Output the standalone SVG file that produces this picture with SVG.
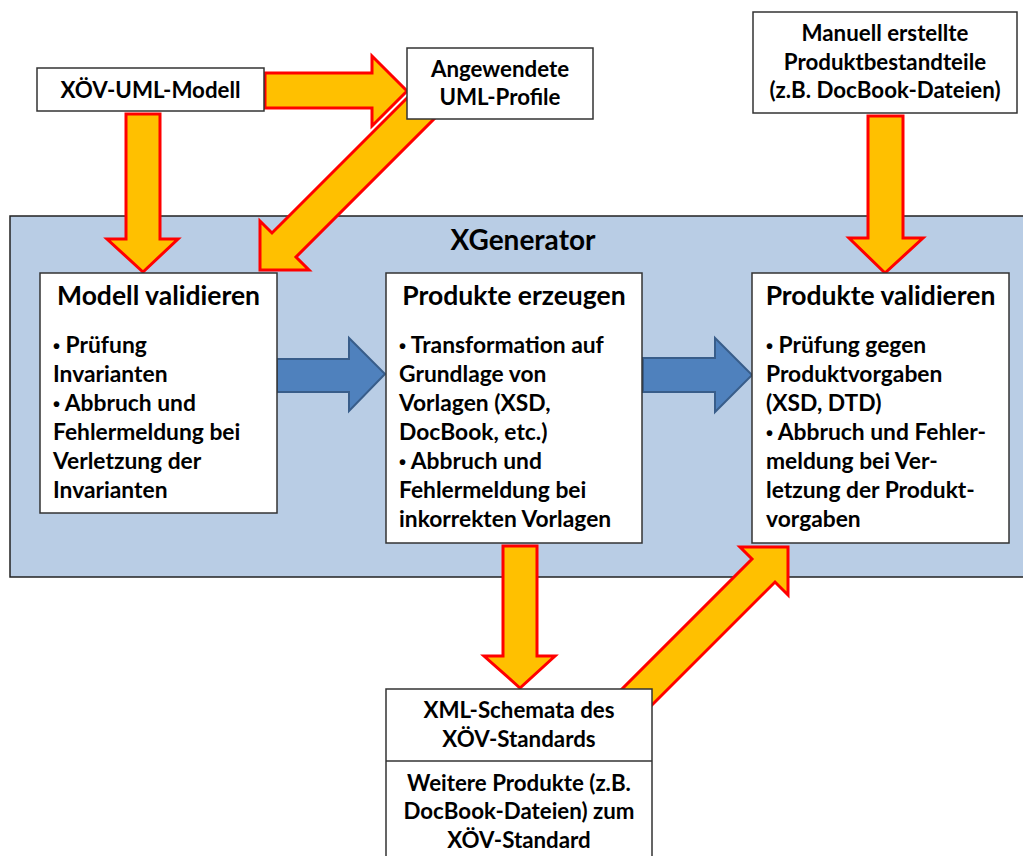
<svg xmlns="http://www.w3.org/2000/svg" width="1023" height="856" viewBox="0 0 1023 856">
  <style>
    .box { fill: #ffffff; stroke: #333333; stroke-width: 1.5; }
    .frame { fill: #b9cde5; stroke: #222222; stroke-width: 1.5; }
    .flow { fill: #ffc000; stroke: #ff0000; stroke-width: 3; stroke-linejoin: miter; }
    .step { fill: #4f81bd; stroke: #385d8a; stroke-width: 2; stroke-linejoin: miter; }
    text { font-family: Lato, "Open Sans", "Liberation Sans", sans-serif; font-weight: bold; fill: #000000; }
    .lbl { font-size: 22.3px; text-anchor: middle; }
    .ttl { font-size: 26.5px; text-anchor: middle; }
    .body { font-size: 22.8px; }
    .dot { font-family: "Liberation Sans", sans-serif; font-size: 20px; }
    .big { font-size: 28px; text-anchor: middle; }
  </style>

  <!-- XGenerator container -->
  <g id="xgenerator">
    <rect class="frame" x="10" y="216" width="1030" height="361"/>
    <text class="big" x="523" y="250">XGenerator</text>
  </g>

  <!-- connectors -->
  <g id="connectors">
    <!-- XÖV-UML-Modell -> Modell validieren -->
    <polygon class="flow" points="126,114 160,114 160,239 178,239 143,272 107,239 126,239"/>
    <!-- XÖV-UML-Modell -> Angewendete UML-Profile -->
    <polygon class="flow" points="265,73 372,73 372,56 407,91 372,126 372,108 265,108"/>
    <!-- Angewendete UML-Profile -> Modell validieren -->
    <polygon class="flow" points="260,270 260,221 272,233 410,95 434,119 296,257 309,270"/>
    <!-- Manuell erstellte Produktbestandteile -> Produkte validieren -->
    <polygon class="flow" points="868,116 903,116 903,238 923,238 885,273 849,238 868,238"/>
    <!-- Produkte erzeugen -> XML-Schemata -->
    <polygon class="flow" points="503,546 537,546 537,656 555,656 520,688 484,656 503,656"/>
    <!-- XML-Schemata -> Produkte validieren -->
    <polygon class="flow" points="788,547 788,595 775,582 623,734 600,711 752,559 740,547"/>
    <!-- internal steps -->
    <polygon class="step" points="277,359 349,359 349,338 385,374 349,411 349,392 277,392"/>
    <polygon class="step" points="643,358 715,358 715,338 752,375 715,412 715,392 643,392"/>
  </g>

  <g id="xoev-uml-modell">
    <rect class="box" x="37" y="68" width="227" height="43"/>
    <text class="lbl" x="150.5" y="98">XÖV-UML-Modell</text>
  </g>

  <g id="uml-profile">
    <rect class="box" x="407" y="48" width="186" height="71"/>
    <text class="lbl" x="500" y="77">Angewendete</text>
    <text class="lbl" x="500" y="105">UML-Profile</text>
  </g>

  <g id="manuelle-bestandteile">
    <rect class="box" x="753" y="12" width="264" height="101"/>
    <text class="lbl" x="885" y="41">Manuell erstellte</text>
    <text class="lbl" x="885" y="70">Produktbestandteile</text>
    <text class="lbl" x="885" y="98">(z.B. DocBook-Dateien)</text>
  </g>

  <g id="modell-validieren">
    <rect class="box" x="40" y="273" width="237" height="240"/>
    <text class="ttl" x="158.5" y="305">Modell validieren</text>
    <text class="body" x="53" y="353"><tspan class="dot">•</tspan> Prüfung</text>
    <text class="body" x="53" y="382">Invarianten</text>
    <text class="body" x="53" y="411"><tspan class="dot">•</tspan> Abbruch und</text>
    <text class="body" x="53" y="440">Fehlermeldung bei</text>
    <text class="body" x="53" y="469">Verletzung der</text>
    <text class="body" x="53" y="498">Invarianten</text>
  </g>

  <g id="produkte-erzeugen">
    <rect class="box" x="386" y="273" width="256" height="270"/>
    <text class="ttl" x="514" y="305">Produkte erzeugen</text>
    <text class="body" x="399" y="353"><tspan class="dot">•</tspan> Transformation auf</text>
    <text class="body" x="399" y="382">Grundlage von</text>
    <text class="body" x="399" y="411">Vorlagen (XSD,</text>
    <text class="body" x="399" y="440">DocBook, etc.)</text>
    <text class="body" x="399" y="469"><tspan class="dot">•</tspan> Abbruch und</text>
    <text class="body" x="399" y="498">Fehlermeldung bei</text>
    <text class="body" x="399" y="527">inkorrekten Vorlagen</text>
  </g>

  <g id="produkte-validieren">
    <rect class="box" x="752" y="273" width="257" height="270"/>
    <text class="ttl" x="880.5" y="305">Produkte validieren</text>
    <text class="body" x="766" y="353"><tspan class="dot">•</tspan> Prüfung gegen</text>
    <text class="body" x="766" y="382">Produktvorgaben</text>
    <text class="body" x="766" y="411">(XSD, DTD)</text>
    <text class="body" x="766" y="440"><tspan class="dot">•</tspan> Abbruch und Fehler-</text>
    <text class="body" x="766" y="469">meldung bei Ver-</text>
    <text class="body" x="766" y="498">letzung der Produkt-</text>
    <text class="body" x="766" y="527">vorgaben</text>
  </g>

  <g id="xml-schemata">
    <rect class="box" x="386" y="689" width="266" height="190"/>
    <line x1="386" y1="761" x2="652" y2="761" stroke="#333333" stroke-width="1.5"/>
    <text class="lbl" x="519" y="718">XML-Schemata des</text>
    <text class="lbl" x="519" y="747">XÖV-Standards</text>
    <text class="lbl" x="519" y="791">Weitere Produkte (z.B.</text>
    <text class="lbl" x="519" y="819">DocBook-Dateien) zum</text>
    <text class="lbl" x="519" y="848">XÖV-Standard</text>
  </g>
</svg>
